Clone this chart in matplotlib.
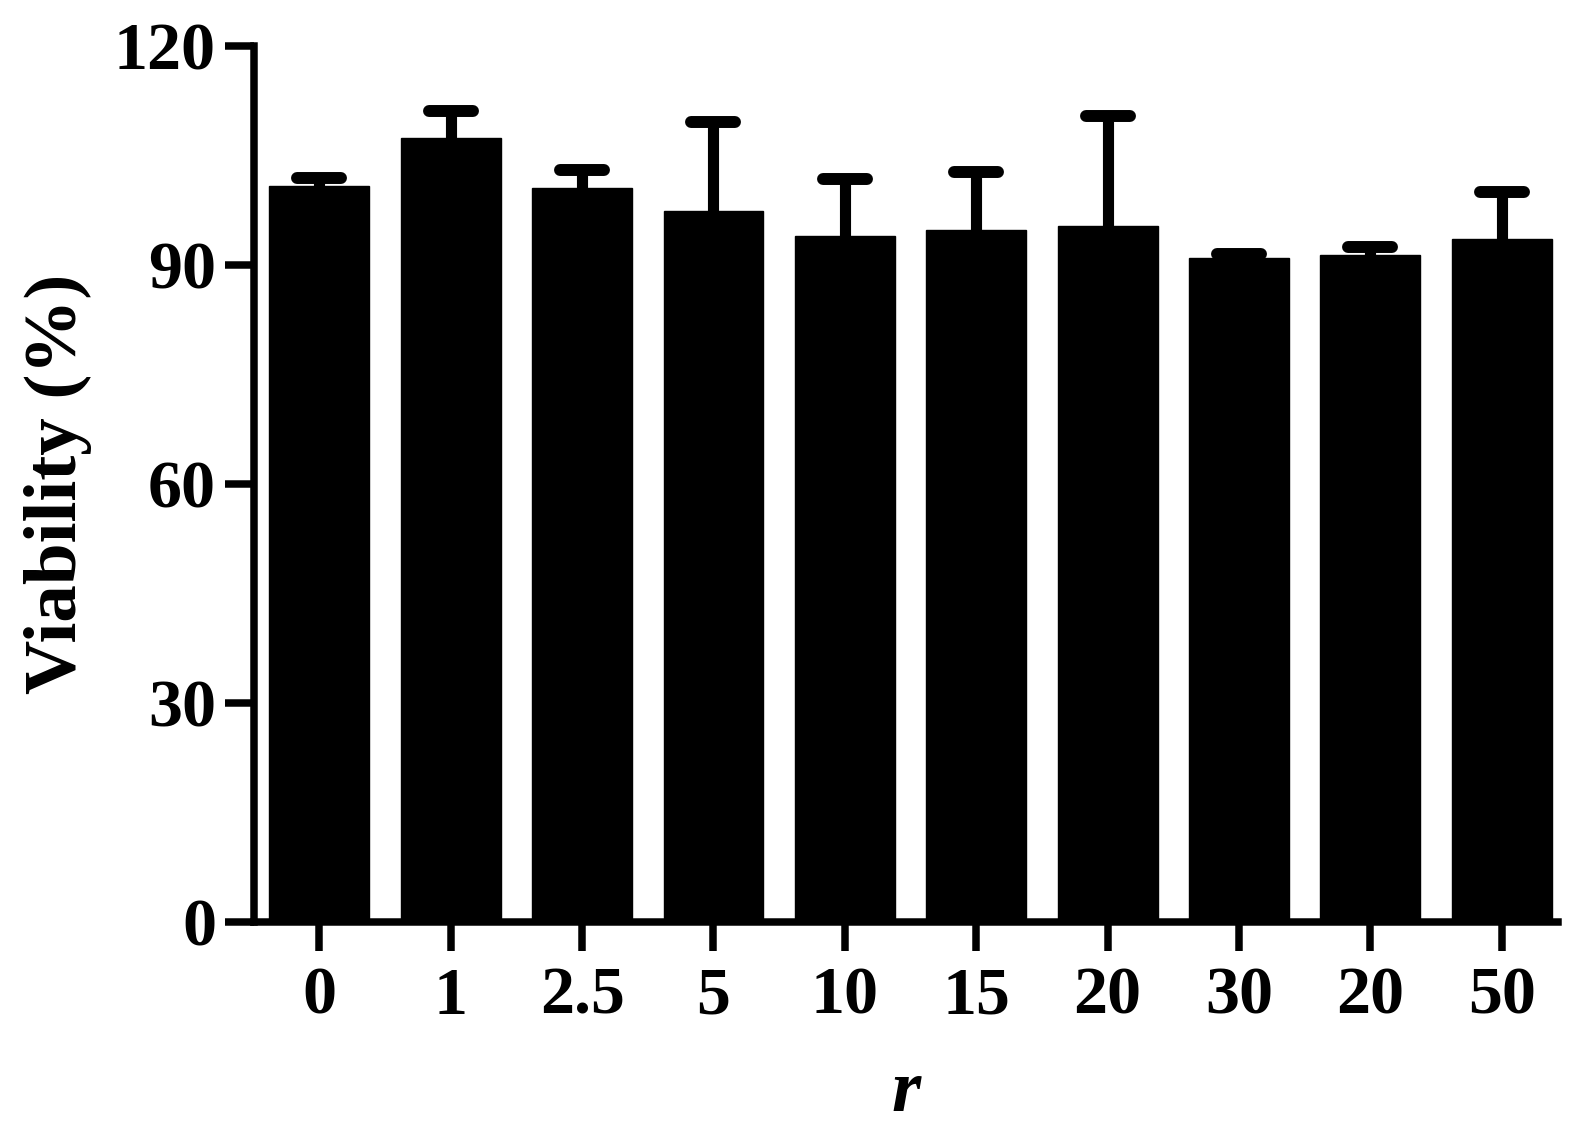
import numpy as np
import matplotlib.pyplot as plt
from matplotlib.markers import MarkerStyle

# values
r_labels = ["0", "1", "2.5", "5", "10", "15", "20", "30", "20", "50"]
viability = [100.9, 107.5, 100.6, 97.4, 94.0, 94.8, 95.4, 91.0, 91.4, 93.6]
viability_err = [1.1, 3.6, 2.4, 12.2, 7.8, 8.0, 15.1, 0.5, 1.1, 6.4]

plt.rcParams["font.family"] = ["Liberation Serif", "DejaVu Serif"]
plt.rcParams["font.weight"] = "bold"

fig = plt.figure(figsize=(15.95, 11.3), dpi=100)
ax = fig.add_axes([0.159, 0.184, 0.818, 0.775])

x = np.arange(len(r_labels))
ax.bar(x, viability, width=0.76, color="black", edgecolor="black", zorder=2)

eb = ax.errorbar(x, viability, yerr=[np.zeros(len(x)), viability_err],
                 fmt="none", ecolor="black", elinewidth=8,
                 capsize=16, capthick=8.6, zorder=3)
# only the upper cap is shown
eb[1][0].set_visible(False)
eb[1][1].set_marker(MarkerStyle("_", capstyle="round"))

ax.set_xlim(-0.5, 9.43)
ax.set_ylim(0, 120)
ax.set_yticks([0, 30, 60, 90, 120])
ax.set_xticks(x)
ax.set_xticklabels(r_labels)

for side in ["top", "right"]:
    ax.spines[side].set_visible(False)
for side in ["left", "bottom"]:
    ax.spines[side].set_linewidth(5.4)
    ax.spines[side].set_zorder(4)

ax.tick_params(axis="y", direction="out", length=21, width=5.4,
               labelsize=49, pad=6)
ax.tick_params(axis="x", direction="out", length=21, width=5.4,
               labelsize=49, pad=11)
for lab in ax.get_xticklabels() + ax.get_yticklabels():
    lab.set_fontweight("bold")

ax.set_ylabel("Viability (%)", fontsize=54, fontweight="bold", va="center")
ax.yaxis.set_label_coords(-0.15, 0.5)
ax.set_xlabel("r", fontsize=54, fontweight="bold", fontstyle="italic", va="center")
ax.xaxis.set_label_coords(0.5, -0.195)

fig.savefig("out.png", dpi=100)
